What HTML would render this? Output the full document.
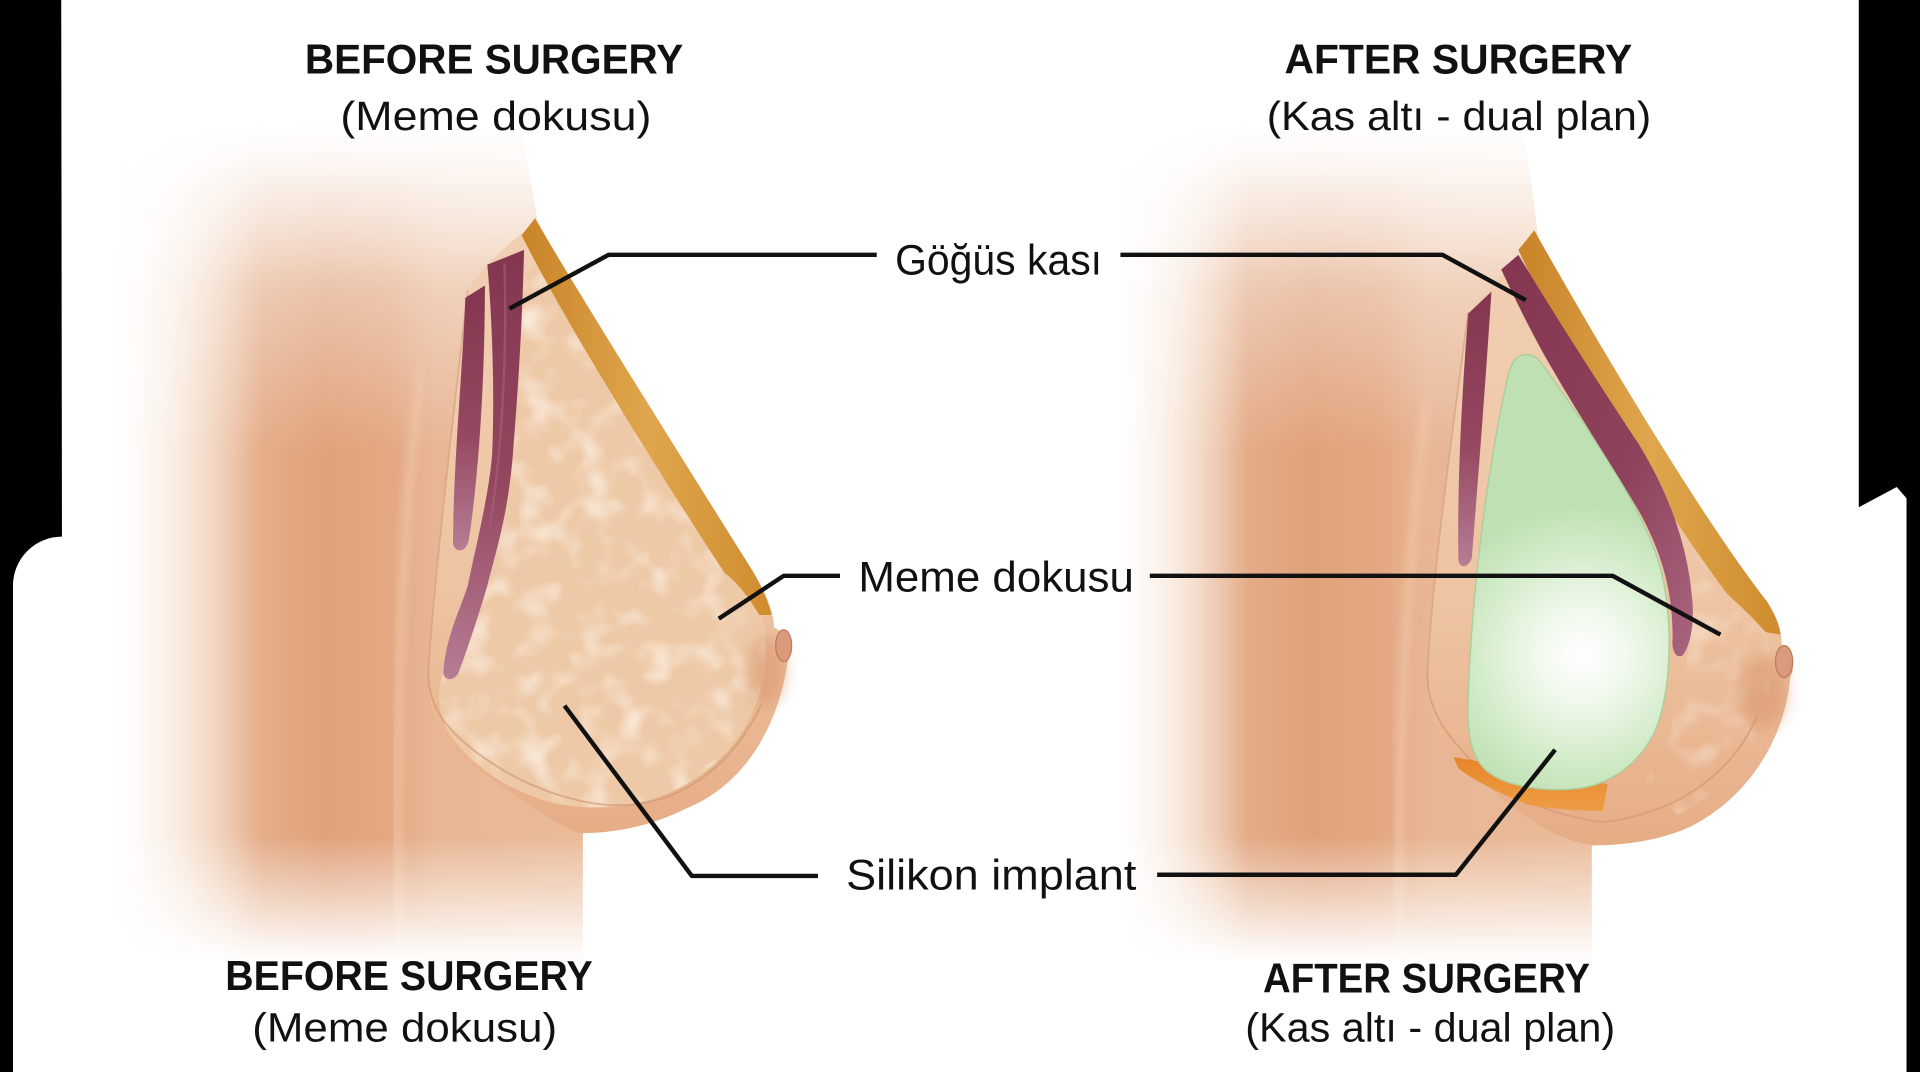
<!DOCTYPE html>
<html><head><meta charset="utf-8"><style>
html,body{margin:0;padding:0;background:#000;}
svg{display:block;}
text{font-family:"Liberation Sans",Arial,sans-serif;fill:#111;}
</style></head><body>
<svg width="1920" height="1072" viewBox="0 0 1568 875" preserveAspectRatio="none" xmlns="http://www.w3.org/2000/svg">
<defs>
  <linearGradient id="mhLg" gradientUnits="userSpaceOnUse" x1="92" y1="0" x2="215" y2="0">
    <stop offset="0" stop-color="#000"/><stop offset="0.45" stop-color="#666"/><stop offset="1" stop-color="#fff"/></linearGradient>
  <linearGradient id="mhRg" gradientUnits="userSpaceOnUse" x1="912" y1="0" x2="1020" y2="0">
    <stop offset="0" stop-color="#000"/><stop offset="0.45" stop-color="#666"/><stop offset="1" stop-color="#fff"/></linearGradient>
  <linearGradient id="mvg" gradientUnits="userSpaceOnUse" x1="0" y1="100" x2="0" y2="785">
    <stop offset="0" stop-color="#000"/><stop offset="0.08" stop-color="#999"/><stop offset="0.2" stop-color="#fff"/>
    <stop offset="0.85" stop-color="#fff"/><stop offset="1" stop-color="#000"/></linearGradient>
  <mask id="mhL" maskUnits="userSpaceOnUse" x="0" y="0" width="1568" height="875"><rect width="1568" height="875" fill="url(#mhLg)"/></mask>
  <mask id="mhR" maskUnits="userSpaceOnUse" x="0" y="0" width="1568" height="875"><rect width="1568" height="875" fill="url(#mhRg)"/></mask>
  <mask id="mv" maskUnits="userSpaceOnUse" x="0" y="0" width="1568" height="875"><rect width="1568" height="875" fill="url(#mvg)"/></mask>

  <linearGradient id="torsoL" gradientUnits="userSpaceOnUse" x1="90" y1="0" x2="480" y2="0">
    <stop offset="0" stop-color="#f8e6d8"/><stop offset="0.15" stop-color="#efcbb0"/><stop offset="0.3" stop-color="#e5ae8a"/>
    <stop offset="0.45" stop-color="#e0a27b"/><stop offset="0.58" stop-color="#e3a781"/><stop offset="0.68" stop-color="#e8b694"/>
    <stop offset="1" stop-color="#eabb99"/></linearGradient>
  <linearGradient id="torsoR" gradientUnits="userSpaceOnUse" x1="905" y1="0" x2="1300" y2="0">
    <stop offset="0" stop-color="#f8e6d8"/><stop offset="0.14" stop-color="#efcbb0"/><stop offset="0.28" stop-color="#e4ac88"/>
    <stop offset="0.42" stop-color="#e0a27b"/><stop offset="0.56" stop-color="#e3a781"/><stop offset="0.66" stop-color="#e8b694"/>
    <stop offset="1" stop-color="#eabb99"/></linearGradient>
  <linearGradient id="topLight" gradientUnits="userSpaceOnUse" x1="0" y1="100" x2="0" y2="370">
    <stop offset="0" stop-color="#fff" stop-opacity="0.85"/><stop offset="0.45" stop-color="#fff" stop-opacity="0.4"/><stop offset="1" stop-color="#fff" stop-opacity="0"/></linearGradient>

  <linearGradient id="breastG" x1="0" y1="0" x2="0" y2="1">
    <stop offset="0" stop-color="#f1cfb3"/><stop offset="0.6" stop-color="#eec4a2"/><stop offset="1" stop-color="#e6ad86"/></linearGradient>
  <linearGradient id="fatG" x1="0" y1="0" x2="1" y2="0">
    <stop offset="0" stop-color="#c98328"/><stop offset="0.5" stop-color="#e0a64d"/><stop offset="1" stop-color="#cf8c2e"/></linearGradient>
  <linearGradient id="musG" x1="0" y1="0" x2="0" y2="1">
    <stop offset="0" stop-color="#843650"/><stop offset="0.55" stop-color="#94475f"/><stop offset="1" stop-color="#b67d95"/></linearGradient>
  <linearGradient id="musG2" x1="0" y1="0" x2="1" y2="1">
    <stop offset="0" stop-color="#843650"/><stop offset="0.6" stop-color="#8f425b"/><stop offset="1" stop-color="#a86580"/></linearGradient>
  <radialGradient id="implantG" gradientUnits="userSpaceOnUse" cx="1292" cy="535" r="125">
    <stop offset="0" stop-color="#ffffff"/><stop offset="0.3" stop-color="#f0f9ec"/><stop offset="0.7" stop-color="#d2ebc9"/><stop offset="1" stop-color="#bfe0b3"/></radialGradient>
  <linearGradient id="orangeG" x1="0" y1="0" x2="0" y2="1">
    <stop offset="0" stop-color="#e6852a"/><stop offset="1" stop-color="#ee9d45"/></linearGradient>

  <filter id="lumps" filterUnits="objectBoundingBox" x="0" y="0" width="1" height="1">
    <feTurbulence type="fractalNoise" baseFrequency="0.04" numOctaves="2" seed="7" result="n"/>
    <feColorMatrix in="n" type="matrix" values="0 0 0 0 0.98  0 0 0 0 0.89  0 0 0 0 0.8  2 0 0 0 -0.95"/>
  </filter>
  <filter id="b3" x="-20%" y="-20%" width="140%" height="140%"><feGaussianBlur stdDeviation="3"/></filter>
  <filter id="b6" x="-30%" y="-30%" width="160%" height="160%"><feGaussianBlur stdDeviation="6"/></filter>

  <clipPath id="glandClipL"><path d="M430,222 L446,212 C470,260 520,335 560,395 C585,432 605,462 618,490 C626,510 628,530 622,560 C612,600 585,630 545,648 C515,660 480,662 450,655 C415,645 385,625 368,600 C358,585 356,565 362,548 C375,510 392,470 400,420 C410,360 420,280 430,222 Z"/></clipPath>
  <clipPath id="glandClipR"><path d="M1380,440 C1400,465 1425,490 1440,505 C1448,530 1448,560 1440,590 C1425,625 1400,650 1370,665 L1340,640 C1365,610 1375,560 1380,520 Z"/></clipPath>
</defs>

<rect width="1568" height="875" fill="#000"/>
<path d="M50,0 H1518 V414 L1549,397.5 L1557,406.7 V875 H10.6 V478 A40,40 0 0 1 50.6,438 Z" fill="#fff"/>

<!-- LEFT FIGURE -->
<g mask="url(#mv)"><g mask="url(#mhL)">
  <path d="M60,100 L424,100 C430,130 436,160 439,181 C460,220 570,395 614,465 C626,485 632,500 632,512 C640,516 647,528 643,541 C636,590 610,640 560,660 C530,675 500,680 476,680 L476,800 L60,800 Z" fill="url(#torsoL)"/>
  <path d="M60,100 L424,100 C430,130 436,160 439,181 L476,680 L476,800 L60,800 Z" fill="url(#topLight)"/>
  <path d="M345,300 C330,400 322,550 326,790" stroke="#f0c8aa" stroke-width="8" fill="none" filter="url(#b3)" opacity="0.6"/>
</g></g>
<path d="M439,181 C460,220 570,395 614,465 C626,485 632,500 632,512 C640,516 647,528 643,541 C636,590 610,640 560,660 C530,675 500,680 472,680 C450,670 420,650 380,620 C355,598 348,575 350,544 C355,470 370,340 382,237 C395,215 420,195 439,181 Z" fill="url(#breastG)"/>
<path d="M430,222 L446,212 C470,260 520,335 560,395 C585,432 605,462 618,490 C626,510 628,530 622,560 C612,600 585,630 545,648 C515,660 480,662 450,655 C415,645 385,625 368,600 C358,585 356,565 362,548 C375,510 392,470 400,420 C410,360 420,280 430,222 Z" fill="#eec9a7"/>
<g clip-path="url(#glandClipL)"><rect x="350" y="200" width="290" height="470" fill="#fff" filter="url(#lumps)"/></g>
<path d="M350,544 C348,575 362,600 415,631 C440,645 470,655 496,657 C540,660 590,640 622,575" stroke="#d29a78" stroke-width="1.6" fill="none" opacity="0.7"/>
<path d="M382,237 C370,340 355,470 350,544" stroke="#d29a78" stroke-width="1.4" fill="none" opacity="0.6"/>
<path d="M437,178 C460,220 570,395 614,465 C622,478 628,492 630,502 L620,502 C610,484 598,472 592,468 C555,412 466,272 426,192 Z" fill="url(#fatG)"/>
<!-- muscles left -->
<path d="M380,243 L396,233 C396,300 392,380 383,440 C381,451 372,452 370,444 C370,380 378,300 380,243 Z" fill="url(#musG)"/>
<path d="M398,216 L428,204 C426,280 422,330 419,369 C415,420 405,450 398,478 C390,505 380,535 374,550 C370,556 363,556 362,549 C364,520 375,500 382,478 C390,440 400,400 402,369 C404,320 402,260 398,216 Z" fill="url(#musG)"/>
<path d="M412,215 C414,280 411,360 400,430" stroke="#a9617a" stroke-width="2" fill="none" opacity="0.6"/>
<!-- nipple left -->
<ellipse cx="626" cy="548" rx="16" ry="28" fill="#d38b63" opacity="0.45" filter="url(#b6)"/>
<ellipse cx="640" cy="527" rx="6.5" ry="13" fill="#d99b7b" stroke="#bc7a5c" stroke-width="1"/>

<!-- RIGHT FIGURE -->
<g mask="url(#mv)"><g mask="url(#mhR)">
  <path d="M905,100 L1242,100 C1248,130 1253,165 1256,194 C1285,245 1380,410 1443,491 C1452,505 1455,515 1455,526 C1463,530 1467,545 1462,553 C1458,600 1430,650 1380,675 C1350,688 1320,690 1300,690 L1300,800 L905,800 Z" fill="url(#torsoR)"/>
  <path d="M905,100 L1242,100 C1248,130 1253,165 1256,194 L1300,690 L1300,800 L905,800 Z" fill="url(#topLight)"/>
  <path d="M1165,330 C1150,450 1140,600 1143,790" stroke="#f0c8aa" stroke-width="8" fill="none" filter="url(#b3)" opacity="0.6"/>
</g></g>
<path d="M1256,194 C1285,245 1380,410 1443,491 C1452,505 1455,515 1455,526 C1463,530 1467,545 1462,553 C1458,600 1430,650 1380,675 C1350,688 1320,690 1300,690 C1270,685 1240,665 1215,642 C1180,615 1164,590 1166,544 C1170,470 1185,360 1199,255 C1215,235 1240,210 1256,194 Z" fill="url(#breastG)"/>
<g clip-path="url(#glandClipR)"><rect x="1330" y="430" width="130" height="240" fill="#fff" filter="url(#lumps)" opacity="0.6"/></g>
<path d="M1166,544 C1164,575 1175,600 1227,644 C1255,660 1285,668 1309,671 C1360,665 1410,640 1435,585" stroke="#d29a78" stroke-width="1.6" fill="none" opacity="0.7"/>
<path d="M1199,255 C1185,360 1170,470 1166,544" stroke="#d29a78" stroke-width="1.4" fill="none" opacity="0.6"/>
<path d="M1253,188 C1285,245 1380,410 1443,491 C1450,502 1453,510 1454,518 L1442,516 C1428,500 1418,492 1410,484 C1356,412 1276,282 1240,204 Z" fill="url(#fatG)"/>
<!-- orange band -->
<path d="M1187,618 C1230,625 1280,635 1313,640 L1309,662 C1290,662 1265,660 1248,657 C1225,648 1200,635 1191,627 Z" fill="url(#orangeG)"/>
<!-- implant -->
<path d="M1244,290 C1250,288 1256,292 1260,298 C1290,340 1340,410 1355,460 C1368,505 1365,570 1350,600 C1335,628 1310,642 1285,644 C1260,646 1230,642 1215,630 C1200,618 1198,595 1199,570 C1202,480 1215,380 1232,305 C1235,295 1239,290 1244,290 Z" fill="url(#implantG)" stroke="#aacf9c" stroke-width="1.2"/>
<!-- muscles right -->
<path d="M1199,256 L1218,238 C1214,300 1208,380 1202,455 C1200,463 1192,465 1191,457 C1190,390 1194,320 1199,256 Z" fill="url(#musG)"/>
<path d="M1226,220 L1240,208 C1270,258 1310,320 1338,362 C1360,398 1378,440 1382,490 C1384,510 1380,528 1374,535 C1368,538 1365,530 1366,520 C1366,480 1356,450 1340,420 C1320,385 1290,340 1270,305 C1255,280 1240,250 1226,220 Z" fill="url(#musG2)"/>
<!-- nipple right -->
<ellipse cx="1440" cy="565" rx="20" ry="30" fill="#d38b63" opacity="0.45" filter="url(#b6)"/>
<ellipse cx="1457" cy="540" rx="7" ry="13" fill="#d99b7b" stroke="#bc7a5c" stroke-width="1"/>

<!-- connectors -->
<g stroke="#111" stroke-width="3.6" fill="none" stroke-linejoin="round" stroke-linecap="butt">
  <path d="M716,208 L497,208 L416,252"/>
  <path d="M915,208 L1178,208 L1246,245"/>
  <path d="M686,470 L640,470 L587,505"/>
  <path d="M939,470 L1317,470 L1405,518"/>
  <path d="M668,715 L565,715 L461,576"/>
  <path d="M945,714 L1189,714 L1270,612"/>
</g>

<!-- labels -->
<text x="731" y="224" font-size="35" textLength="169" lengthAdjust="spacingAndGlyphs">Göğüs kası</text>
<text x="701" y="483" font-size="35" textLength="225" lengthAdjust="spacingAndGlyphs">Meme dokusu</text>
<text x="691" y="726" font-size="35" textLength="237" lengthAdjust="spacingAndGlyphs">Silikon implant</text>

<!-- headings -->
<text x="403.5" y="60" text-anchor="middle" font-weight="bold" font-size="34.3" textLength="309" lengthAdjust="spacingAndGlyphs">BEFORE SURGERY</text>
<text x="405" y="106" text-anchor="middle" font-size="33" textLength="254" lengthAdjust="spacingAndGlyphs">(Meme dokusu)</text>
<text x="1191" y="60" text-anchor="middle" font-weight="bold" font-size="34.3" textLength="284" lengthAdjust="spacingAndGlyphs">AFTER SURGERY</text>
<text x="1191.5" y="106" text-anchor="middle" font-size="33" textLength="314" lengthAdjust="spacingAndGlyphs">(Kas altı - dual plan)</text>
<text x="334" y="808" text-anchor="middle" font-weight="bold" font-size="34.3" textLength="300" lengthAdjust="spacingAndGlyphs">BEFORE SURGERY</text>
<text x="330.5" y="850" text-anchor="middle" font-size="33" textLength="249" lengthAdjust="spacingAndGlyphs">(Meme dokusu)</text>
<text x="1165" y="810" text-anchor="middle" font-weight="bold" font-size="34.3" textLength="267" lengthAdjust="spacingAndGlyphs">AFTER SURGERY</text>
<text x="1168" y="850" text-anchor="middle" font-size="33" textLength="302" lengthAdjust="spacingAndGlyphs">(Kas altı - dual plan)</text>
</svg>
</body></html>
